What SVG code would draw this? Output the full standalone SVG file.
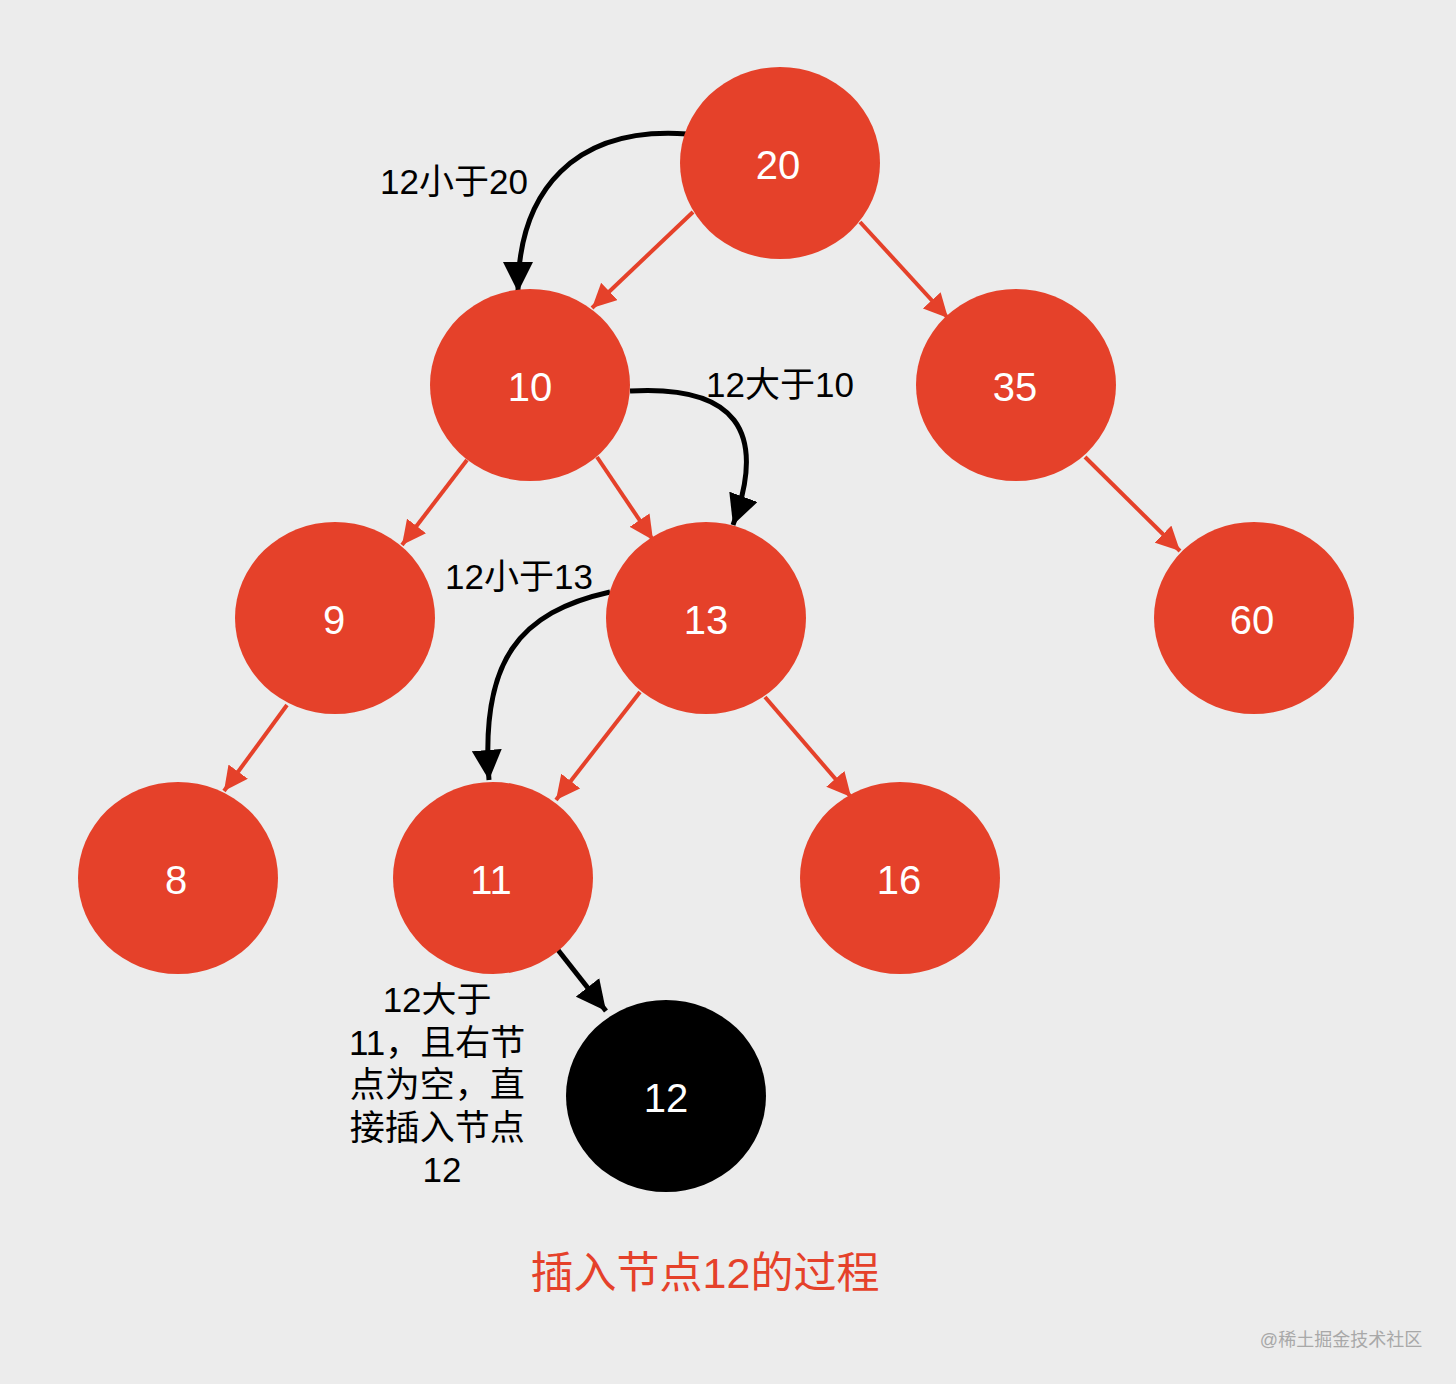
<svg xmlns="http://www.w3.org/2000/svg" width="1456" height="1384" viewBox="0 0 1456 1384">
<defs>
<style>
.node{fill:#E5412A}
.nt{fill:#fff;font-family:"Liberation Sans","Noto Sans CJK SC",sans-serif;font-size:40px;text-anchor:middle}
.lbl{fill:#000;font-family:"Liberation Sans","Noto Sans CJK SC",sans-serif;font-size:35px}
.red{stroke:#E5412A;stroke-width:4;fill:none}
.blk{stroke:#000;stroke-width:5;fill:none}
</style>
<marker id="ra" viewBox="0 0 10 10" refX="10" refY="5" markerWidth="6" markerHeight="6" markerUnits="strokeWidth" orient="auto"><path d="M0,0 L10,5 L0,10 Z" fill="#E5412A"/></marker>
<marker id="ba" viewBox="0 0 10 10" refX="10" refY="5" markerWidth="6" markerHeight="6" markerUnits="strokeWidth" orient="auto"><path d="M0,0 L10,5 L0,10 Z" fill="#000"/></marker>
</defs>
<rect width="1456" height="1384" fill="#ECECEC"/>
<g id="connectors">
<line class="red" x1="693" y1="212" x2="592" y2="308" marker-end="url(#ra)"/>
<line class="red" x1="860" y1="222" x2="948" y2="318" marker-end="url(#ra)"/>
<line class="red" x1="467" y1="460" x2="402" y2="545" marker-end="url(#ra)"/>
<line class="red" x1="597" y1="457" x2="653" y2="540" marker-end="url(#ra)"/>
<line class="red" x1="1085" y1="457" x2="1180" y2="551" marker-end="url(#ra)"/>
<line class="red" x1="287" y1="705" x2="224" y2="791" marker-end="url(#ra)"/>
<line class="red" x1="640" y1="692" x2="556" y2="800" marker-end="url(#ra)"/>
<line class="red" x1="765" y1="697" x2="851" y2="797" marker-end="url(#ra)"/>
<path class="blk" d="M687 134 C575 126 518 190 518 292" marker-end="url(#ba)"/>
<path class="blk" d="M630 391 C735 385 768 430 733 525" marker-end="url(#ba)"/>
<path class="blk" d="M610 592 C520 612 480 660 489 780" marker-end="url(#ba)"/>
<line class="blk" x1="558" y1="950" x2="606" y2="1011" marker-end="url(#ba)"/>
</g>
<g id="n20"><ellipse class="node" cx="780" cy="163" rx="100" ry="96"/><text class="nt" x="778" y="179">20</text></g>
<g id="n10"><ellipse class="node" cx="530" cy="385" rx="100" ry="96"/><text class="nt" x="530" y="401">10</text></g>
<g id="n35"><ellipse class="node" cx="1016" cy="385" rx="100" ry="96"/><text class="nt" x="1015" y="401">35</text></g>
<g id="n9"><ellipse class="node" cx="335" cy="618" rx="100" ry="96"/><text class="nt" x="334" y="634">9</text></g>
<g id="n13"><ellipse class="node" cx="706" cy="618" rx="100" ry="96"/><text class="nt" x="706" y="634">13</text></g>
<g id="n60"><ellipse class="node" cx="1254" cy="618" rx="100" ry="96"/><text class="nt" x="1252" y="634">60</text></g>
<g id="n8"><ellipse class="node" cx="178" cy="878" rx="100" ry="96"/><text class="nt" x="176" y="894">8</text></g>
<g id="n11"><ellipse class="node" cx="493" cy="878" rx="100" ry="96"/><text class="nt" x="491" y="894">11</text></g>
<g id="n16"><ellipse class="node" cx="900" cy="878" rx="100" ry="96"/><text class="nt" x="899" y="894">16</text></g>
<g id="n12"><ellipse cx="666" cy="1096" rx="100" ry="96" fill="#000"/><text class="nt" x="666" y="1112">12</text></g>
<g id="labels">
<text class="lbl" x="380" y="194">12小于20</text>
<text class="lbl" x="706" y="397">12大于10</text>
<text class="lbl" x="445" y="589">12小于13</text>
<text class="lbl" text-anchor="middle">
<tspan x="442" y="1012">12大于</tspan>
<tspan x="442" y="1055">11，且右节</tspan>
<tspan x="442" y="1097">点为空，直</tspan>
<tspan x="442" y="1140">接插入节点</tspan>
<tspan x="442" y="1182">12</tspan>
</text>
<text x="705" y="1288" text-anchor="middle" fill="#E5412A" font-family="'Liberation Sans','Noto Sans CJK SC',sans-serif" font-size="43">插入节点12的过程</text>
<text x="1341" y="1346" text-anchor="middle" fill="#A8A8A8" font-family="'Liberation Sans','Noto Sans CJK SC',sans-serif" font-size="18">@稀土掘金技术社区</text>
</g>
</svg>
